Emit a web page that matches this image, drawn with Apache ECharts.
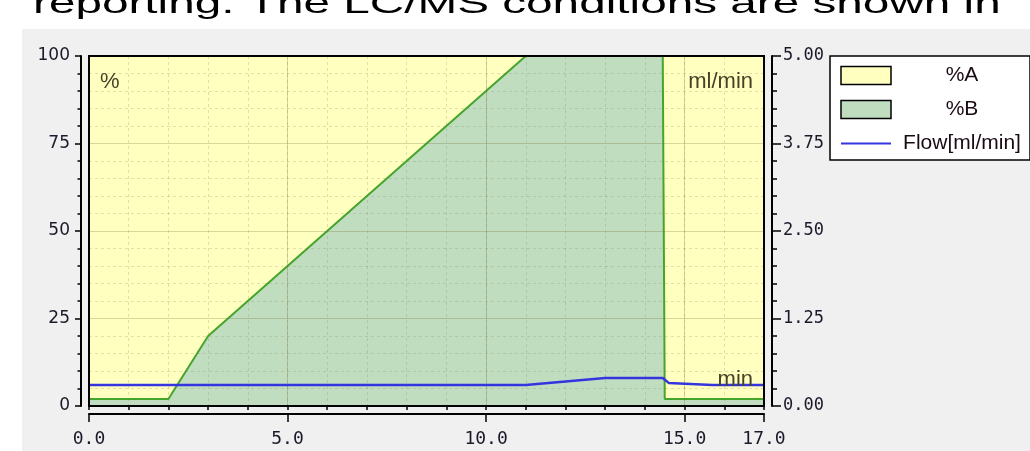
<!DOCTYPE html>
<html>
<head>
<meta charset="utf-8">
<script src="https://cdn.jsdelivr.net/npm/echarts@6/dist/echarts.min.js"></script>
<style>
  html, body { margin: 0; padding: 0; background: #ffffff; }
  #chart { width: 1030px; height: 451px; }
</style>
</head>
<body>
<div id="chart"></div>
<script>
// ---- data ----
const timeB = [0, 2, 3, 11, 14.45, 14.5, 17];          // min
const pctB = [2, 2, 20, 100, 100, 2, 2];               // %B
const pctA = [98, 98, 80, 0, 0, 98, 98];               // %A (=100-%B)
const timeFlow = [0, 11, 13, 14.45, 14.6, 15.7, 17];   // min
const flowVals = [0.3, 0.3, 0.4, 0.4, 0.33, 0.3, 0.3]; // ml/min
const xLabelValues = [0, 5, 10, 15, 17];
const leftLabelValues = [0, 25, 50, 75, 100];
const rightLabelValues = [0, 1.25, 2.5, 3.75, 5];
const titleText = 'reporting. The LC/MS conditions are shown in';
const legendNames = ['%A', '%B', 'Flow[ml/min]'];

// rows as [value, time] so that the stacked dimension is the value (y) one
const rowsVT = (ts, vs) => ts.map((t, i) => [vs[i], t]);

const chart = echarts.init(document.getElementById('chart'), null, { renderer: 'canvas' });

const axisBlack = '#000';
const majorGrid = 'rgba(110,110,50,0.28)';
const minorGrid = 'rgba(120,120,70,0.22)';
const tickTextColor = '#1a1a2a';

const option = {
  backgroundColor: '#ffffff',
  animation: false,
  graphic: [
    { type: 'rect', z: -1, silent: true, shape: { x: 22, y: 29, width: 1008, height: 422 }, style: { fill: '#f0f0f0' } },
    { type: 'text', x: 33, y: 5, scaleX: 1.59, scaleY: 1, silent: true,
      style: { text: titleText, fontFamily: 'Liberation Sans', fontSize: 30, fill: '#000', align: 'left', verticalAlign: 'middle' } },
    { type: 'text', x: 100, y: 82, z: 10, silent: true,
      style: { text: '%', fontFamily: 'Liberation Sans', fontSize: 22, fill: '#4a4028', align: 'left', verticalAlign: 'middle' } },
    { type: 'text', x: 753, y: 82, z: 10, silent: true,
      style: { text: 'ml/min', fontFamily: 'Liberation Sans', fontSize: 22, fill: '#4a4028', align: 'right', verticalAlign: 'middle' } },
    { type: 'text', x: 753, y: 380, z: 10, silent: true,
      style: { text: 'min', fontFamily: 'Liberation Sans', fontSize: 22, fill: '#4a4028', align: 'right', verticalAlign: 'middle' } }
  ],
  grid: {
    left: 89, top: 56, right: 266, bottom: 45,
    show: true, z: 5,
    backgroundColor: 'transparent',
    borderColor: '#000', borderWidth: 2
  },
  legend: {
    orient: 'vertical', left: 830, top: 56,
    padding: [9, 2, 6, 10], itemGap: 13,
    itemWidth: 50, itemHeight: 18,
    backgroundColor: '#ffffff', borderColor: '#000', borderWidth: 1.5,
    selectedMode: false,
    data: [
      { name: legendNames[0], icon: 'rect', itemStyle: { color: '#ffffc0', borderColor: '#000', borderWidth: 1.5 } },
      { name: legendNames[1], icon: 'rect', itemStyle: { color: '#c0ddc0', borderColor: '#000', borderWidth: 1.5 } },
      { name: legendNames[2], itemStyle: { opacity: 0 }, lineStyle: { color: '#3535e0', width: 2 } }
    ],
    formatter: n => '{t|' + n + '}',
    textStyle: {
      rich: { t: { width: 132, align: 'center', fontSize: 21, lineHeight: 21, fontFamily: 'Liberation Sans', color: '#1a0a14' } }
    }
  },
  xAxis: [
    {
      type: 'value', position: 'bottom', offset: 8, min: 0, max: 17, interval: 5, z: 3,
      axisLine: { show: true, onZero: false, lineStyle: { color: axisBlack, width: 2 } },
      axisTick: { show: true, length: 8, lineStyle: { color: axisBlack, width: 1.5 } },
      axisLabel: { customValues: xLabelValues, margin: 16, fontFamily: 'DejaVu Sans Mono', fontSize: 18, color: tickTextColor,
        formatter: v => Number(v).toFixed(1) },
      splitLine: { show: true, lineStyle: { color: majorGrid, width: 1 } }
    },
    {
      type: 'value', position: 'bottom', offset: 8, min: 0, max: 17, interval: 1, z: 3,
      axisLine: { show: false },
      axisTick: { show: true, length: 4, lineStyle: { color: axisBlack, width: 1.5 } },
      axisLabel: { show: false },
      splitLine: { show: true, lineStyle: { color: minorGrid, width: 1, type: [3, 3] } }
    }
  ],
  yAxis: [
    {
      type: 'value', position: 'left', offset: 8, min: 0, max: 100, interval: 25, z: 3,
      axisLine: { show: true, onZero: false, lineStyle: { color: axisBlack, width: 2 } },
      axisTick: { show: true, length: 6, lineStyle: { color: axisBlack, width: 1.5 } },
      minorTick: { show: true, splitNumber: 5, length: 3.5, lineStyle: { color: axisBlack, width: 1.5 } },
      axisLabel: { customValues: leftLabelValues, margin: 11, fontFamily: 'DejaVu Sans', fontSize: 17, color: tickTextColor },
      splitLine: { show: true, lineStyle: { color: majorGrid, width: 1 } },
      minorSplitLine: { show: true, lineStyle: { color: minorGrid, width: 1, type: [3, 3] } }
    },
    {
      type: 'value', position: 'right', offset: 8, min: 0, max: 5, interval: 1.25, z: 3,
      axisLine: { show: true, onZero: false, lineStyle: { color: axisBlack, width: 2 } },
      axisTick: { show: true, length: 9, lineStyle: { color: axisBlack, width: 1.5 } },
      minorTick: { show: true, splitNumber: 5, length: 5, lineStyle: { color: axisBlack, width: 1.5 } },
      axisLabel: { customValues: rightLabelValues, margin: 11, fontFamily: 'DejaVu Sans Mono', fontSize: 17, color: tickTextColor,
        formatter: v => Number(v).toFixed(2) },
      splitLine: { show: false }
    }
  ],
  series: [
    {
      name: '%B', type: 'line', stack: 'pct', xAxisIndex: 0, yAxisIndex: 0, z: 2,
      data: rowsVT(timeB, pctB), encode: { x: 1, y: 0 },
      symbol: 'none', showSymbol: false,
      itemStyle: { color: '#c0ddc0' },
      lineStyle: { color: '#45a52a', width: 2 },
      areaStyle: { color: '#c0ddc0', opacity: 1 }
    },
    {
      name: '%A', type: 'line', stack: 'pct', xAxisIndex: 0, yAxisIndex: 0, z: 1,
      data: rowsVT(timeB, pctA), encode: { x: 1, y: 0 },
      symbol: 'none', showSymbol: false,
      itemStyle: { color: '#ffffc0' },
      lineStyle: { width: 0, color: '#ffffc0' },
      areaStyle: { color: '#ffffc0', opacity: 1 }
    },
    {
      name: 'Flow[ml/min]', type: 'line', xAxisIndex: 0, yAxisIndex: 1, z: 4,
      data: rowsVT(timeFlow, flowVals), encode: { x: 1, y: 0 },
      symbol: 'none', showSymbol: false,
      itemStyle: { color: '#3535e0' },
      lineStyle: { color: '#3535e0', width: 2.5 }
    }
  ]
};

chart.setOption(option);
</script>
</body>
</html>
